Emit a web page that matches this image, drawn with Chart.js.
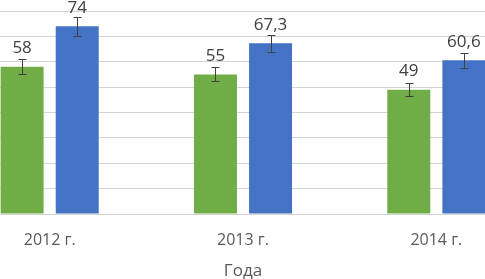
<!DOCTYPE html>
<html>
<head>
<meta charset="utf-8">
<script src="https://cdn.jsdelivr.net/npm/chart.js@4/dist/chart.umd.min.js"></script>
<style>
  html, body { margin: 0; padding: 0; background: #fff; overflow: hidden; }
  body { width: 485px; height: 279px; position: relative; }
  #wrap { position: absolute; left: -47px; top: 0; width: 580px; height: 279px; }
</style>
</head>
<body>
<div id="wrap"><canvas id="myChart"></canvas></div>
<script>
// values
const years = ["2012 г.", "2013 г.", "2014 г."];
const greenValues = [58, 55, 49];
const blueValues = [74, 67.3, 60.6];
const greenErrors = [2.9, 2.75, 2.45];
const blueErrors = [3.7, 3.37, 3.03];

const textColor = "#404040";

// error bars + value labels
const barExtras = {
  id: "barExtras",
  afterDatasetsDraw(chart) {
    const ctx = chart.ctx;
    const yScale = chart.scales.y;
    chart.data.datasets.forEach((ds, i) => {
      const meta = chart.getDatasetMeta(i);
      meta.data.forEach((bar, j) => {
        const v = ds.data[j];
        const e = ds.errors[j];
        const top = Math.round(yScale.getPixelForValue(v + e)) + 0.5;
        const bot = Math.round(yScale.getPixelForValue(v - e)) + 0.5;
        const x = Math.round(bar.x) + 0.5;
        ctx.save();
        ctx.strokeStyle = textColor;
        ctx.lineWidth = 1;
        ctx.beginPath();
        ctx.moveTo(x, top);
        ctx.lineTo(x, bot);
        ctx.moveTo(x - 4, top);
        ctx.lineTo(x + 4, top);
        ctx.moveTo(x - 4, bot);
        ctx.lineTo(x + 4, bot);
        ctx.stroke();
        ctx.fillStyle = textColor;
        ctx.font = '17px "Open Sans"';
        ctx.textAlign = "center";
        ctx.textBaseline = "alphabetic";
        ctx.fillText(String(v).replace(".", ","), bar.x, bar.y - 13.5);
        ctx.restore();
      });
    });
  },
};

const myChart = document.getElementById("myChart").getContext("2d");

new Chart(myChart, {
  type: "bar",
  data: {
    labels: years,
    datasets: [
      {
        data: greenValues,
        errors: greenErrors,
        backgroundColor: "#70ad47",
        barPercentage: 0.78,
        categoryPercentage: 0.57,
      },
      {
        data: blueValues,
        errors: blueErrors,
        backgroundColor: "#4472c4",
        barPercentage: 0.78,
        categoryPercentage: 0.57,
      },
    ],
  },
  options: {
    responsive: true,
    maintainAspectRatio: false,
    animation: false,
    layout: { padding: { top: 11, bottom: 0, left: 0, right: 0 } },
    plugins: {
      legend: { display: false },
      tooltip: { enabled: false },
    },
    scales: {
      x: {
        grid: { display: false, drawTicks: false },
        border: { display: false },
        ticks: {
          color: "#595959",
          font: { family: "Open Sans", size: 16 },
          padding: 17,
        },
        title: {
          display: true,
          text: "Года",
          color: "#595959",
          font: { family: "Open Sans", size: 17 },
          padding: { top: 0, bottom: -2 },
        },
        afterFit(scale) {
          scale.height = 65;
        },
      },
      y: {
        min: 0,
        max: 80,
        ticks: { display: false, stepSize: 10 },
        grid: { color: "#d4d4d4", lineWidth: 1, drawTicks: false },
        border: { display: false },
      },
    },
  },
  plugins: [barExtras],
});
</script>
</body>
</html>
